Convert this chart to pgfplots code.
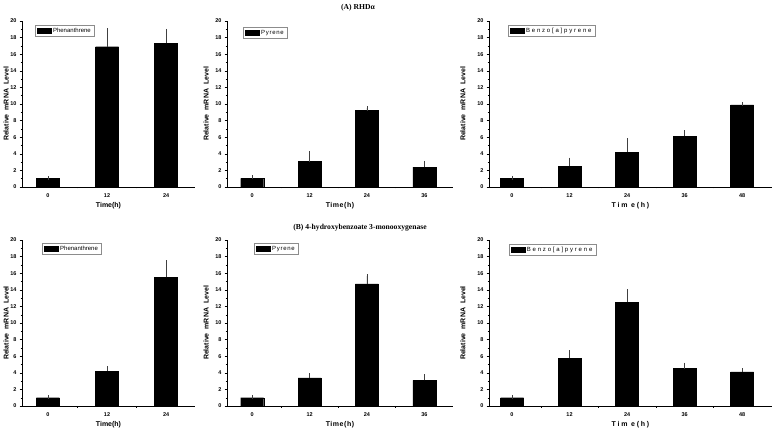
\documentclass[border=0pt]{standalone}
\usepackage{fontspec}
\setmainfont{Liberation Sans}
\newfontfamily\serifT{Liberation Serif}
\usepackage{pgfplots}
\pgfplotsset{compat=1.18}
\pgfplotsset{
  panel/.style={
    scale only axis, anchor=south west, height=166pt,
    ymin=0, ymax=20, ytick={0,2,...,20}, minor y tick num=1,
    axis x line*=bottom, axis y line*=left,
    axis line style={black, line width=0.5pt},
    tick align=outside, major tick length=2.5pt, minor tick length=1.5pt,
    tick style={black, line width=0.4pt},
    major x tick style={draw=none},
    xtick=data,
    tick label style={font=\fontsize{5.5}{6}\selectfont\bfseries},
    /pgf/number format/assume math mode=true,
    yticklabel style={xshift=0.5pt},
    xticklabel style={yshift=-1pt},
    ylabel={Relative~~mRNA~~Level},
    y label style={at={(axis description cs:-0.092,0.5)}, anchor=center, font=\fontsize{7}{8}\selectfont\bfseries},
    x label style={at={(axis description cs:0.5,0)}, anchor=center, yshift=-19pt, font=\fontsize{7}{8}\selectfont\bfseries},
    legend image code/.code={\fill[black] (0pt,-2.5pt) rectangle (14pt,2.5pt);},
    legend style={anchor=north west, draw=black!45, line width=0.4pt,
      font=\fontsize{6}{7}\selectfont, inner xsep=1.5pt, inner ysep=0.8pt,
      /tikz/every even column/.append style={column sep=1pt}},
  },
  bars/.style={ybar, bar width=23pt, fill=black, draw=black,
    error bars/.cd, y dir=plus, y explicit,
    error bar style={black!75, line width=0.5pt},
    error mark options={black!75, mark size=2pt, line width=0.5pt}},
}
\begin{document}
\begin{tikzpicture}
\path[use as bounding box] (0pt,0pt) rectangle (775pt,433pt);
\node[font=\serifT\bfseries\fontsize{7.6}{8}\selectfont] at (358pt,425pt) {(A) RHDα};
\node[font=\serifT\bfseries\fontsize{7.6}{8}\selectfont] at (360pt,205pt) {(B) 4-hydroxybenzoate 3-monooxygenase};

% ---------- (A) top row ----------
\begin{axis}[panel, at={(22pt,246pt)}, width=173pt, xmin=-0.44, xmax=2.49,
  minor xtick={0.5,1.5}, xticklabels={0,12,24}, xlabel={Time(h)},
  legend style={at={(0.075,0.976)}}]
\addplot[bars] coordinates {(0,1.0) +- (0,0.05) (1,16.9) +- (0,2.0) (2,17.3) +- (0,1.5)};
\addlegendentry{Phenanthrene}
\end{axis}

\begin{axis}[panel, at={(227pt,246pt)}, width=226pt, xmin=-0.44, xmax=3.5,
  minor xtick={0.5,1.5,2.5}, xticklabels={0,12,24,36}, xlabel={\addfontfeature{LetterSpace=8}Time(h)},
  legend style={at={(0.071,0.964)}}]
\addplot[bars] coordinates {(0,1.05) +- (0,0.15) (1,3.05) +- (0,1.0) (2,9.2) +- (0,0.3) (3,2.4) +- (0,0.5)};
\addlegendentry{\addfontfeature{LetterSpace=12}Pyrene}
\end{axis}

\begin{axis}[panel, at={(489pt,246pt)}, width=283pt, xmin=-0.4, xmax=4.52,
  minor xtick={0.5,1.5,2.5,3.5}, xticklabels={0,12,24,36,48}, xlabel={\addfontfeature{LetterSpace=25}Tim e(h)},
  legend style={at={(0.067,0.976)}}]
\addplot[bars] coordinates {(0,1.05) +- (0,0.05) (1,2.5) +- (0,0.8) (2,4.2) +- (0,1.45) (3,6.1) +- (0,0.5) (4,9.9) +- (0,0.1)};
\addlegendentry{\addfontfeature{LetterSpace=30}Benzo[a]pyrene}
\end{axis}

% ---------- (B) bottom row ----------
\begin{axis}[panel, at={(22pt,27pt)}, width=173pt, xmin=-0.44, xmax=2.49,
  minor xtick={0.5,1.5}, xticklabels={0,12,24}, xlabel={Time(h)},
  legend style={at={(0.116,0.982)}}]
\addplot[bars] coordinates {(0,1.0) +- (0,0.05) (1,4.2) +- (0,0.35) (2,15.5) +- (0,1.8)};
\addlegendentry{Phenanthrene}
\end{axis}

\begin{axis}[panel, at={(227pt,27pt)}, width=226pt, xmin=-0.44, xmax=3.5,
  minor xtick={0.5,1.5,2.5}, xticklabels={0,12,24,36}, xlabel={\addfontfeature{LetterSpace=8}Time(h)},
  legend style={at={(0.12,0.982)}}]
\addplot[bars] coordinates {(0,1.0) +- (0,0.1) (1,3.4) +- (0,0.3) (2,14.7) +- (0,0.95) (3,3.1) +- (0,0.5)};
\addlegendentry{\addfontfeature{LetterSpace=12}Pyrene}
\end{axis}

\begin{axis}[panel, at={(489pt,27pt)}, width=283pt, xmin=-0.4, xmax=4.52,
  minor xtick={0.5,1.5,2.5,3.5}, xticklabels={0,12,24,36,48}, xlabel={\addfontfeature{LetterSpace=25}Tim e(h)},
  legend style={at={(0.07,0.976)}}]
\addplot[bars] coordinates {(0,1.0) +- (0,0.1) (1,5.75) +- (0,0.75) (2,12.5) +- (0,1.35) (3,4.5) +- (0,0.5) (4,4.1) +- (0,0.2)};
\addlegendentry{\addfontfeature{LetterSpace=30}Benzo[a]pyrene}
\end{axis}
\end{tikzpicture}
\end{document}
